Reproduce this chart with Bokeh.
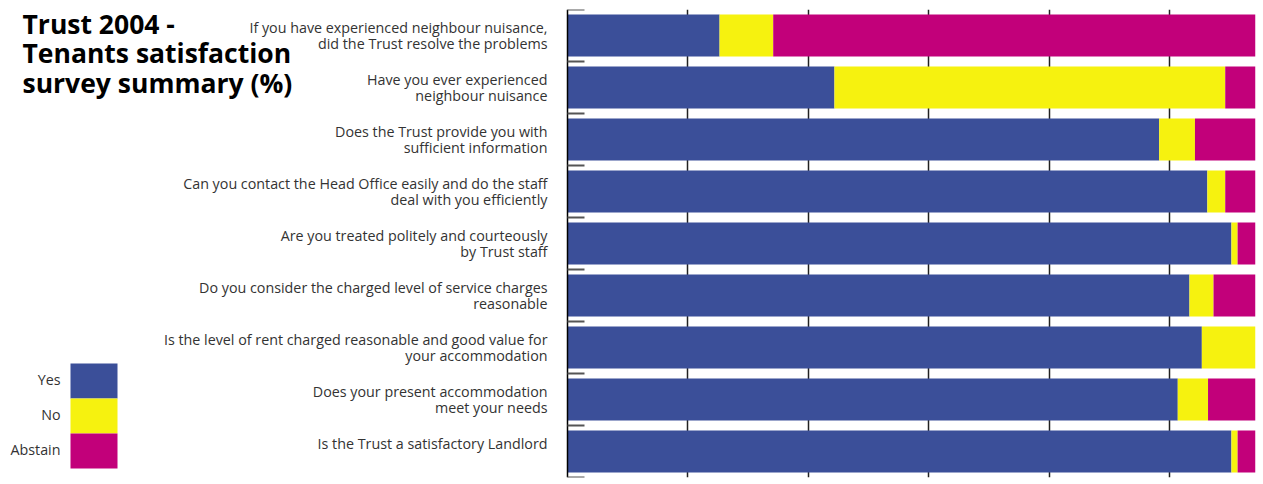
from bokeh.plotting import figure
from bokeh.models import ColumnDataSource, FixedTicker, Grid, Range1d, LinearAxis
from bokeh.core.properties import value
from bokeh.embed import file_html
from bokeh.resources import INLINE

title_text = "Trust 2004 -\nTenants satisfaction\nsurvey summary (%)"

questions = [
    "If you have experienced neighbour nuisance,\ndid the Trust resolve the problems",
    "Have you ever experienced\nneighbour nuisance",
    "Does the Trust provide you with\nsufficient information",
    "Can you contact the Head Office easily and do the staff\ndeal with you efficiently",
    "Are you treated politely and courteously\nby Trust staff",
    "Do you consider the charged level of service charges\nreasonable",
    "Is the level of rent charged reasonable and good value for\nyour accommodation",
    "Does your present accommodation\nmeet your needs",
    "Is the Trust a satisfactory Landlord\n",
]
yes = [22.1, 38.8, 86.0, 93.0, 96.5, 90.4, 92.2, 88.7, 96.5]
no = [7.8, 56.8, 5.2, 2.6, 0.9, 3.5, 7.8, 4.4, 0.9]
abstain = [70.1, 4.4, 8.8, 4.4, 2.6, 6.1, 0.0, 6.9, 2.6]
series = ["Yes", "No", "Abstain"]
colors = ["#3B4F99", "#F6F20F", "#C2007A"]
grid_ticks = [17.5, 35, 52.5, 70, 87.5]

FONT = "Open Sans"
TEXT_COLOR = "#333333"
n = len(questions)
centers = [i + 0.5 for i in range(n)]
bounds = [float(i) for i in range(n + 1)]

# pixel layout of the frame (the frame spans the whole canvas width)
W, H = 1260, 483
AXIS_PX, RIGHT_PX, TOP_PX, BOTTOM_PX = 567, 1255, 9, 477
ux = (RIGHT_PX - AXIS_PX) / 100.0          # px per percent
uy = (BOTTOM_PX - TOP_PX) / n              # px per row


def dx(px):
    return (px - AXIS_PX) / ux


def dy(py):
    return (py - TOP_PX) / uy


src = ColumnDataSource(dict(y=centers, Yes=yes, No=no, Abstain=abstain))

p = figure(width=W, height=H, x_range=Range1d(dx(0), 100), y_range=Range1d(n, 0),
           x_axis_location=None, y_axis_location=None,
           output_backend="svg", toolbar_location=None,
           min_border_left=0, min_border_right=W - RIGHT_PX,
           min_border_top=TOP_PX, min_border_bottom=H - BOTTOM_PX,
           outline_line_color=None)
for gr in p.grid:
    gr.visible = False

g = Grid(dimension=0, ticker=FixedTicker(ticks=grid_ticks),
         grid_line_color="#222222", grid_line_width=1.5)
p.add_layout(g)

p.hbar_stack(series, y="y", height=0.81, color=colors, source=src, line_color=None)

ax = LinearAxis(fixed_location=0, ticker=FixedTicker(ticks=centers, minor_ticks=bounds))
ax.major_label_overrides = {c: q for c, q in zip(centers, questions)}
ax.major_tick_in = 0
ax.major_tick_out = 0
ax.minor_tick_in = 17
ax.minor_tick_out = 0
ax.minor_tick_line_color = "#555555"
ax.minor_tick_line_width = 2
ax.axis_line_color = "black"
ax.axis_line_width = 1.5
ax.major_label_standoff = 20
ax.major_label_text_font = FONT
ax.major_label_text_font_size = "14.3px"
ax.major_label_text_color = TEXT_COLOR
ax.major_label_text_line_height = 0.8
p.add_layout(ax, "left")

# title
p.text(x=[dx(22)], y=[dy(5)], text=[title_text], text_font=value(FONT),
       text_font_style="bold", text_font_size="26.5px", text_baseline="top",
       text_align="left", text_line_height=0.83, text_color="black")

# legend (labels left of colour boxes)
box_top = [dy(363 + 35 * i) for i in range(len(series))]
box_bot = [dy(398 + 35 * i) for i in range(len(series))]
p.quad(left=[dx(70)] * len(series), right=[dx(117)] * len(series),
       top=box_top, bottom=box_bot, fill_color=colors, line_color=None)
p.text(x=[dx(60)] * len(series), y=[(t + b) / 2 - 0.03 for t, b in zip(box_top, box_bot)],
       text=series, text_font=value(FONT), text_font_size="14.3px",
       text_align="right", text_baseline="middle", text_color=TEXT_COLOR)

open("out.html", "w").write(file_html(p, INLINE))
